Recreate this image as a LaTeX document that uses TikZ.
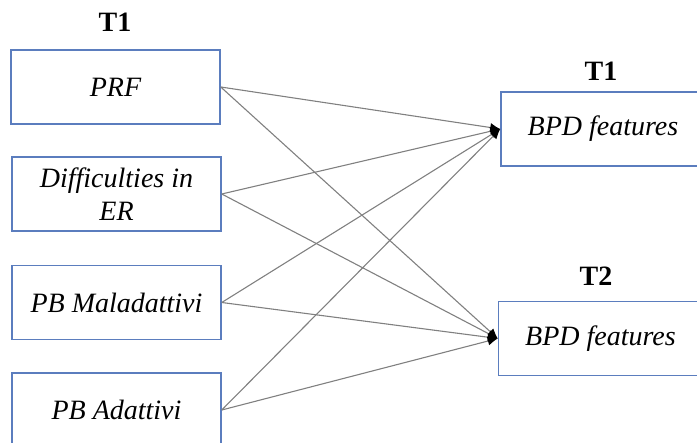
\documentclass[tikz,border=0pt]{standalone}
\usepackage{fontspec}
\setmainfont{Liberation Serif}
\usetikzlibrary{arrows.meta}
\definecolor{boxblue}{HTML}{5B7DBE}
\definecolor{linegray}{HTML}{808080}
\begin{document}
\begin{tikzpicture}[x=0.5pt,y=-0.5pt,
  every node/.style={font=\fontsize{14}{16.5}\selectfont},
  varbox/.style={draw=boxblue,line width=0.75pt,rectangle,inner sep=0pt,
    minimum width=104.5pt,minimum height=37pt,align=center,font=\fontsize{14}{16.5}\selectfont\itshape},
  outbox/.style={varbox,minimum width=102pt},
  heading/.style={font=\fontsize{14}{16.5}\selectfont\bfseries,inner sep=0pt},
  conn/.style={draw=linegray,line width=0.55pt,-{Latex[length=5pt,width=4.5pt,fill=black,color=black]}}]
\useasboundingbox (0,0) rectangle (697,443);
\clip (0,0) rectangle (697,443);
\node[heading] (h1) at (115,22) {T1};
\node[heading] (h2) at (601,71) {T1};
\node[heading] (h3) at (596,276) {T2};
\node[varbox] (prf) at (115.5,87) {PRF};
\node[varbox] (der) at (116.5,194) {Difficulties in\\ER};
\node[varbox] (pbm) at (116.5,302.5) {PB Maladattivi};
\node[varbox] (pba) at (116.5,410) {PB Adattivi};
\node[outbox] (bpd1) at (603,129) {BPD features};
\node[outbox] (bpd2) at (600.5,338.5) {BPD features};
\foreach \s in {prf,der,pbm,pba}{
  \draw[conn] (\s.east) -- (bpd1.west);
  \draw[conn] (\s.east) -- (bpd2.west);
}
\end{tikzpicture}
\end{document}
